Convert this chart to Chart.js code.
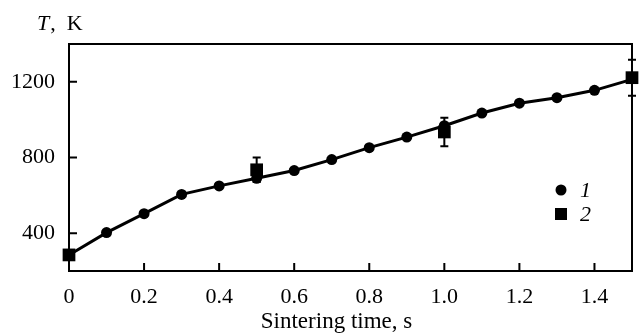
<!DOCTYPE html>
<html lang="en">
<head>
<meta charset="UTF-8">
<title>Sintering temperature</title>
<script src="https://cdn.jsdelivr.net/npm/chart.js"></script>
<style>
    body { margin: 0; background: #fff; }
    #wrap { width: 641px; height: 333px; }
</style>
</head>
<body>
<div id="wrap"><canvas id="chart"></canvas></div>
<script>
// curve through the measured points
const timeLine = [0, 0.1, 0.2, 0.3, 0.4, 0.5, 0.6, 0.7, 0.8, 0.9, 1.0, 1.1, 1.2, 1.3, 1.4, 1.5];
const tempLine = [285, 403, 503, 605, 650, 690, 731, 789, 852, 908, 968, 1035, 1087, 1116, 1155, 1213];
// series 1 (circles)
const time1 = [0.1, 0.2, 0.3, 0.4, 0.5, 0.6, 0.7, 0.8, 0.9, 1.0, 1.1, 1.2, 1.3, 1.4];
const temp1 = [403, 503, 605, 650, 690, 731, 789, 852, 908, 968, 1035, 1087, 1116, 1155];
// series 2 (squares) with error half-widths
const time2 = [0, 0.5, 1.0, 1.5];
const temp2 = [285, 735, 935, 1222];
const err2 = [0, 65, 75, 95];

const xTicks = [0, 0.2, 0.4, 0.6, 0.8, 1.0, 1.2, 1.4];
const yTicks = [400, 800, 1200];

const FONT = '"Liberation Serif", "Times New Roman", serif';

const decor = {
    id: 'decor',
    beforeDatasetsDraw(chart) {
        const { ctx, scales: { x, y } } = chart;
        ctx.save();
        ctx.strokeStyle = '#000';
        ctx.lineWidth = 2;
        ctx.beginPath();
        time2.forEach((t, i) => {
            if (!err2[i]) return;
            const px = x.getPixelForValue(t);
            const hi = y.getPixelForValue(temp2[i] + err2[i]);
            const lo = y.getPixelForValue(temp2[i] - err2[i]);
            ctx.moveTo(px, hi); ctx.lineTo(px, lo);
            ctx.moveTo(px - 4, hi); ctx.lineTo(px + 4, hi);
            ctx.moveTo(px - 4, lo); ctx.lineTo(px + 4, lo);
        });
        ctx.stroke();
        ctx.restore();
    },
    afterDraw(chart) {
        const { ctx, chartArea: a, scales: { x, y } } = chart;
        ctx.save();
        ctx.strokeStyle = '#000';
        ctx.fillStyle = '#000';
        ctx.lineWidth = 2;
        ctx.strokeRect(a.left, a.top, a.right - a.left, a.bottom - a.top);

        // inward ticks
        ctx.beginPath();
        xTicks.forEach(v => {
            const px = x.getPixelForValue(v);
            ctx.moveTo(px, a.bottom); ctx.lineTo(px, a.bottom - 8);
        });
        yTicks.forEach(v => {
            const py = y.getPixelForValue(v);
            ctx.moveTo(a.left, py); ctx.lineTo(a.left + 8, py);
        });
        ctx.stroke();

        // axis titles
        ctx.textBaseline = 'alphabetic';
        ctx.textAlign = 'left';
        ctx.font = 'italic 22px ' + FONT;
        ctx.fillText('T', 37, 30);
        const tw = ctx.measureText('T').width;
        ctx.font = '22px ' + FONT;
        ctx.fillText(',  K', 37 + tw + 1, 30);

        ctx.font = '23px ' + FONT;
        ctx.textAlign = 'center';
        ctx.fillText('Sintering time, s', (a.left + a.right) / 2 - 14, 328);

        // legend inside the plot
        const lx = a.right - 71;
        ctx.textAlign = 'left';
        ctx.beginPath();
        ctx.arc(lx, a.top + 146, 5.5, 0, Math.PI * 2);
        ctx.fill();
        ctx.fillRect(lx - 6, a.top + 164, 12, 12);
        ctx.font = 'italic 22px ' + FONT;
        ctx.textBaseline = 'middle';
        ctx.fillText('1', lx + 19, a.top + 147);
        ctx.fillText('2', lx + 19, a.top + 171);
        ctx.restore();
    }
};

const xy = (xs, ys) => xs.map((v, i) => ({ x: v, y: ys[i] }));

new Chart(document.getElementById('chart'), {
    type: 'scatter',
    data: {
        datasets: [{
            label: 'curve',
            data: xy(timeLine, tempLine),
            showLine: true,
            borderColor: '#000',
            borderWidth: 3,
            pointRadius: 0,
            tension: 0,
            clip: false
        }, {
            label: '1',
            data: xy(time1, temp1),
            pointStyle: 'circle',
            pointRadius: 5.5,
            backgroundColor: '#000',
            borderColor: '#000',
            borderWidth: 0
        }, {
            label: '2',
            data: xy(time2, temp2),
            pointStyle: 'rect',
            pointRadius: 9,
            backgroundColor: '#000',
            borderColor: '#000',
            borderWidth: 0,
            clip: false
        }]
    },
    options: {
        responsive: true,
        maintainAspectRatio: false,
        animation: false,
        layout: { padding: { top: 44, right: 8, left: 0, bottom: 0 } },
        plugins: { legend: { display: false }, tooltip: { enabled: false } },
        scales: {
            x: {
                type: 'linear',
                min: 0,
                max: 1.5,
                afterBuildTicks: s => { s.ticks = xTicks.map(v => ({ value: v })); },
                afterFit: s => { s.height = 62; },
                grid: { display: false, drawTicks: false },
                border: { display: false },
                ticks: {
                    color: '#000',
                    padding: 13,
                    font: { family: FONT, size: 22 },
                    callback: v => v === 0 ? '0' : v.toFixed(1)
                }
            },
            y: {
                type: 'linear',
                min: 200,
                max: 1400,
                afterBuildTicks: s => { s.ticks = yTicks.map(v => ({ value: v })); },
                afterFit: s => { s.width = 69; },
                grid: { display: false, drawTicks: false },
                border: { display: false },
                ticks: {
                    color: '#000',
                    padding: 14,
                    font: { family: FONT, size: 22 },
                    callback: v => String(v)
                }
            }
        }
    },
    plugins: [decor]
});
</script>
</body>
</html>
